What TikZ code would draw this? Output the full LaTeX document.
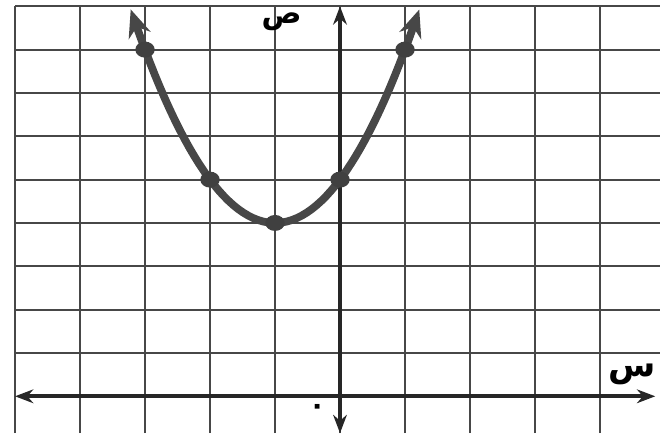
\documentclass[tikz,border=0pt]{standalone}
\usepackage{fontspec}
\newfontfamily\arabicfont[Script=Arabic]{DejaVu Sans}
\usepackage{tikz}
\usetikzlibrary{arrows.meta,shapes.geometric}

\begin{document}
\begin{tikzpicture}[
  x=1cm, y=0.6667cm,
  every node/.style={font=\arabicfont\bfseries},
  gridline/.style={draw=black!72, line width=0.9pt},
  axis/.style={draw=black!85, line width=1.6pt, {Stealth[length=8pt,width=6pt]}-{Stealth[length=8pt,width=6pt]}},
  curve/.style={draw=black!72, line width=3.4pt, line cap=round,
                {Stealth[length=12pt,width=10pt]}-{Stealth[length=12pt,width=10pt]}},
  pt/.style={draw=none, ellipse, fill=black!75, minimum width=8.5pt, minimum height=7pt, inner sep=0pt}
]
\useasboundingbox (-5.231,-0.970) rectangle (4.923,9.145);

% grid
\foreach \i in {-5,...,4}
  \draw[gridline] (\i,-0.85) -- (\i,9);
\foreach \j in {1,...,9}
  \draw[gridline] (-5,\j) -- (4.923,\j);

% axes
\coordinate (xl) at (-5,0);
\coordinate (xr) at (4.85,0);
\coordinate (yb) at (0,-0.85);
\coordinate (yt) at (0,9);
\draw[axis] (xl) -- (xr);
\draw[axis] (yb) -- (yt);

\node (xlab) at (4.49,0.51) {\fontsize{15}{15}\selectfont س};
\node (ylab) at (-0.90,8.64) {\fontsize{13}{13}\selectfont ص};
\node (olab) at (-0.35,-0.30) {\fontsize{12}{12}\selectfont ٠};

% parabola
\draw[curve, domain=-3.22:1.22, samples=60] plot (\x,{(\x+1)^2+4});

\node[pt] (A) at (-3,8) {};
\node[pt] (B) at (-2,5) {};
\node[pt] (C) at (-1,4) {};
\node[pt] (D) at (0,5)  {};
\node[pt] (E) at (1,8)  {};
\end{tikzpicture}
\end{document}
